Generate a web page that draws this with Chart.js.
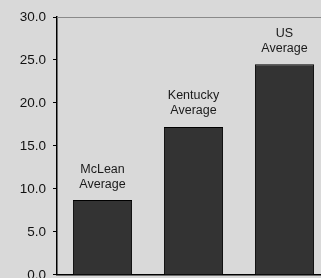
<!DOCTYPE html>
<html>
<head>
<meta charset="utf-8">
<script src="https://cdn.jsdelivr.net/npm/chart.js@4"></script>
<style>
  html, body { margin: 0; padding: 0; background: #d9d9d9; overflow: hidden; }
  #wrap { position: absolute; left: 0; top: 0; width: 340px; height: 290px; }
</style>
</head>
<body>
<div id="wrap"><canvas id="chart" width="340" height="290"></canvas></div>
<script>
const categories = ["McLean", "Kentucky", "US"];
const barLabels = [["McLean", "Average"], ["Kentucky", "Average"], ["US", "Average"]];
const values = [8.7, 17.2, 24.5];
const yTicks = [0, 5, 10, 15, 20, 25, 30];

// draws the two line captions above each bar
const captionPlugin = {
  id: "captions",
  afterDatasetsDraw(chart) {
    const ctx = chart.ctx;
    const meta = chart.getDatasetMeta(0);
    ctx.save();
    ctx.fillStyle = "#1a1a1a";
    ctx.font = "12.5px 'Liberation Sans', Arial, sans-serif";
    ctx.textAlign = "center";
    ctx.textBaseline = "middle";
    meta.data.forEach(function (bar, i) {
      const lines = barLabels[i];
      ctx.fillText(lines[0], bar.x, bar.y - 31);
      ctx.fillText(lines[1], bar.x, bar.y - 16);
    });
    ctx.restore();
  }
};

// gray border along the top of the plot area
const framePlugin = {
  id: "frame",
  beforeDatasetsDraw(chart) {
    const a = chart.chartArea;
    const ctx = chart.ctx;
    ctx.save();
    ctx.strokeStyle = "#8a8a8a";
    ctx.lineWidth = 1;
    ctx.beginPath();
    ctx.moveTo(a.left, a.top + 0.5);
    ctx.lineTo(a.right, a.top + 0.5);
    ctx.stroke();
    ctx.restore();
  }
};

new Chart(document.getElementById("chart").getContext("2d"), {
  type: "bar",
  data: {
    labels: categories,
    datasets: [{
      data: values,
      backgroundColor: "#333333",
      borderColor: "#000000",
      borderWidth: 1,
      categoryPercentage: 1,
      barPercentage: 0.65
    }]
  },
  options: {
    responsive: false,
    animation: false,
    layout: { padding: { top: 17, right: 10, bottom: 13, left: 0 } },
    plugins: { legend: { display: false }, tooltip: { enabled: false } },
    scales: {
      x: {
        ticks: { display: false },
        grid: { display: false, drawTicks: false },
        border: { display: true, color: "#000000", width: 1.5 },
        afterFit(scale) { scale.height = 0; }
      },
      y: {
        min: 0,
        max: 30,
        afterBuildTicks(scale) { scale.ticks = yTicks.map(v => ({ value: v })); },
        ticks: {
          color: "#111111",
          font: { family: "'Liberation Sans', Arial, sans-serif", size: 13.5 },
          padding: 7,
          callback: v => v.toFixed(1)
        },
        grid: { drawOnChartArea: false, drawTicks: true, tickLength: 4, color: "#000000" },
        border: { display: true, color: "#000000", width: 1.5 },
        afterFit(scale) { scale.width = 57; }
      }
    }
  },
  plugins: [captionPlugin, framePlugin]
});
</script>
</body>
</html>
